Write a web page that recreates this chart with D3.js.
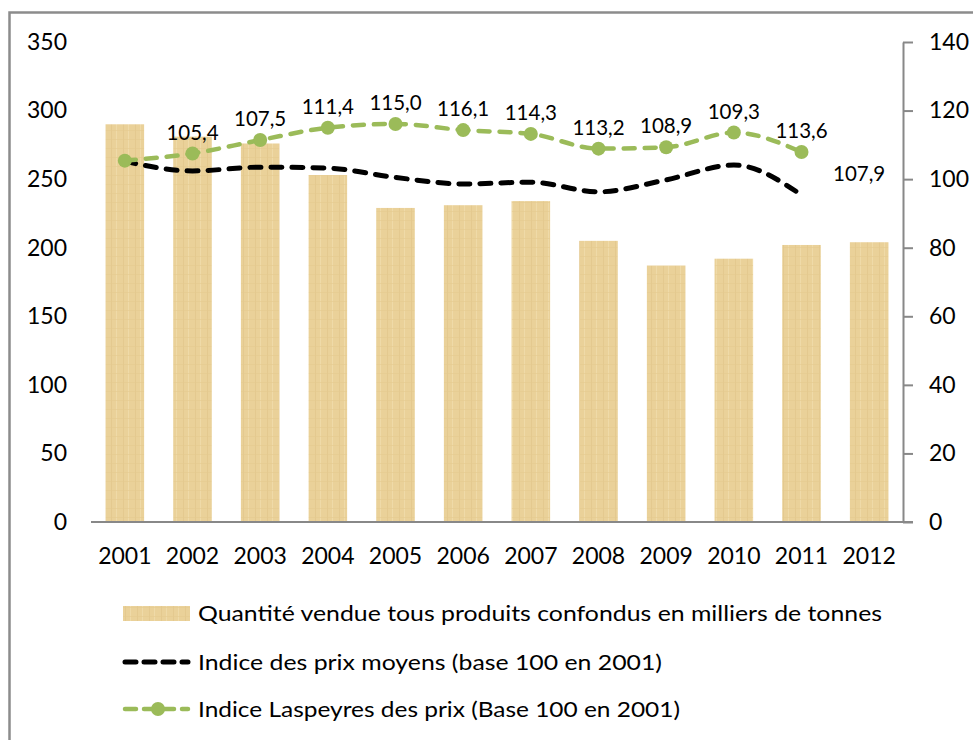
<!DOCTYPE html>
<html>
<head>
<meta charset="utf-8">
<script src="https://cdn.jsdelivr.net/npm/d3@7"></script>
<style>
  body { margin: 0; background: #fff; }
  text { font-family: Lato, "Open Sans", sans-serif; fill: #000; }
</style>
</head>
<body>
<div id="chart"></div>
<script>
const years = ['2001', '2002', '2003', '2004', '2005', '2006', '2007', '2008', '2009', '2010', '2011', '2012'];
// quantité vendue (milliers de tonnes), left axis
const quantity = [290, 281, 276, 253, 229, 231, 234, 205, 187, 192, 202, 204];
// indice des prix moyens, right axis (no value for 2012)
const avgPrice = [105.2, 102.4, 103.5, 103.2, 100.5, 98.6, 99.1, 96.3, 99.8, 104.1, 95.4];
// indice Laspeyres, right axis (no value for 2012)
const laspeyres = [105.4, 107.5, 111.4, 115.0, 116.1, 114.3, 113.2, 108.9, 109.3, 113.6, 107.9];
// data labels as printed in the source, shifted one year to the right
const labelYears = years.slice(1);
const labelTexts = ['105,4', '107,5', '111,4', '115,0', '116,1', '114,3', '113,2', '108,9', '109,3', '113,6', '107,9'];

const leftTicks = [0, 50, 100, 150, 200, 250, 300, 350];
const rightTicks = [0, 20, 40, 60, 80, 100, 120, 140];

const width = 973;
const height = 740;
const plotLeft = 91, plotRight = 903, plotTop = 42, plotBottom = 522;

const svg = d3.select('#chart')
    .append('svg')
    .attr('width', width)
    .attr('height', height);

// bar texture
const defs = svg.append('defs');
const pat = defs.append('pattern')
    .attr('id', 'wood')
    .attr('patternUnits', 'userSpaceOnUse')
    .attr('width', 12)
    .attr('height', 9);
pat.append('rect').attr('width', 12).attr('height', 9).attr('fill', '#ead199');
pat.append('rect').attr('x', 3).attr('width', 1).attr('height', 9).attr('fill', '#e2c68a').attr('opacity', 0.7);
pat.append('rect').attr('x', 8).attr('width', 1).attr('height', 9).attr('fill', '#f0dcab').attr('opacity', 0.8);
pat.append('rect').attr('y', 4).attr('width', 12).attr('height', 1).attr('fill', '#e4ca90').attr('opacity', 0.6);

// frame
svg.append('path')
    .attr('d', 'M9.5,' + height + 'V12.5H' + width)
    .attr('fill', 'none')
    .attr('stroke', '#8c8c8c')
    .attr('stroke-width', 2.5);

const x = d3.scaleBand()
    .domain(years)
    .range([plotLeft, plotRight])
    .paddingInner(0.43)
    .paddingOuter(0.215);

const yL = d3.scaleLinear()
    .domain([0, 350])
    .range([plotBottom, plotTop]);

const yR = d3.scaleLinear()
    .domain([0, 140])
    .range([plotBottom, plotTop]);

// bars
svg.append('g')
    .selectAll('rect')
    .data(quantity)
    .enter()
    .append('rect')
    .attr('x', (d, i) => x(years[i]))
    .attr('y', d => yL(d))
    .attr('width', x.bandwidth())
    .attr('height', d => yL(0) - yL(d))
    .attr('fill', 'url(#wood)');

// left axis: labels only
const leftAxis = svg.append('g')
    .attr('transform', 'translate(' + (plotLeft - 24) + ',0)')
    .call(d3.axisLeft(yL).tickValues(leftTicks).tickSize(0).tickPadding(0));
leftAxis.select('.domain').remove();
leftAxis.selectAll('text').style('font-size', '23px').attr('font-family', 'Lato');

// right axis
const rightAxis = svg.append('g')
    .attr('transform', 'translate(' + plotRight + ',0)')
    .call(d3.axisRight(yR).tickValues(rightTicks).tickSize(10).tickSizeOuter(0).tickPadding(16));
rightAxis.select('.domain').attr('stroke', '#888').attr('stroke-width', 2);
rightAxis.selectAll('line').attr('stroke', '#888').attr('stroke-width', 2);
rightAxis.selectAll('text').style('font-size', '23px').attr('font-family', 'Lato');

// x axis
const xAxis = svg.append('g')
    .attr('transform', 'translate(0,' + plotBottom + ')')
    .call(d3.axisBottom(x).tickSize(0).tickPadding(26));
xAxis.select('.domain').remove();
xAxis.selectAll('text').style('font-size', '23px').attr('font-family', 'Lato');
svg.append('line')
    .attr('x1', plotLeft)
    .attr('x2', plotRight + 10)
    .attr('y1', plotBottom)
    .attr('y2', plotBottom)
    .attr('stroke', '#888')
    .attr('stroke-width', 2);

const cx = i => x(years[i]) + x.bandwidth() / 2;

// indice des prix moyens
svg.append('path')
    .datum(avgPrice)
    .attr('d', d3.line()
        .x((d, i) => cx(i))
        .y(d => yR(d))
        .curve(d3.curveMonotoneX))
    .attr('fill', 'none')
    .attr('stroke', '#000')
    .attr('stroke-width', 5)
    .attr('stroke-linecap', 'round')
    .attr('stroke-dasharray', '11,10');

// indice Laspeyres
svg.append('path')
    .datum(laspeyres)
    .attr('d', d3.line()
        .x((d, i) => cx(i))
        .y(d => yR(d))
        .curve(d3.curveMonotoneX))
    .attr('fill', 'none')
    .attr('stroke', '#9bbb59')
    .attr('stroke-width', 4.5)
    .attr('stroke-linecap', 'round')
    .attr('stroke-dasharray', '11,10');

svg.append('g')
    .selectAll('circle')
    .data(laspeyres)
    .enter()
    .append('circle')
    .attr('cx', (d, i) => cx(i))
    .attr('cy', d => yR(d))
    .attr('r', 7)
    .attr('fill', '#9bbb59');

// data labels, sitting above the point of the year they were placed on
svg.append('g')
    .selectAll('text')
    .data(labelTexts)
    .enter()
    .append('text')
    .text(d => d)
    .attr('x', (d, i) => x(labelYears[i]) + x.bandwidth() / 2 - (i === labelTexts.length - 1 ? 10 : 0))
    .attr('y', (d, i) => {
        const v = i + 1 < laspeyres.length ? laspeyres[i + 1] : avgPrice[avgPrice.length - 1];
        return yR(v) - 21;
    })
    .attr('dy', '0.35em')
    .attr('text-anchor', 'middle')
    .style('font-size', '20.5px');

// legend
const legend = svg.append('g').attr('transform', 'translate(122,0)');
const legendY = [613, 662, 709];
const legendText = [
    'Quantité vendue tous produits confondus en milliers de tonnes',
    'Indice des prix moyens (base 100 en 2001)',
    'Indice Laspeyres des prix (Base 100 en 2001)'
];
const legendWidth = [684, 464, 482];

legend.append('rect')
    .attr('x', 1)
    .attr('y', legendY[0] - 7)
    .attr('width', 67)
    .attr('height', 15)
    .attr('fill', 'url(#wood)');

legend.append('line')
    .attr('x1', 3).attr('x2', 66)
    .attr('y1', legendY[1]).attr('y2', legendY[1])
    .attr('stroke', '#000')
    .attr('stroke-width', 5)
    .attr('stroke-linecap', 'round')
    .attr('stroke-dasharray', '11,8');

legend.append('line')
    .attr('x1', 3).attr('x2', 66)
    .attr('y1', legendY[2]).attr('y2', legendY[2])
    .attr('stroke', '#9bbb59')
    .attr('stroke-width', 4.5)
    .attr('stroke-linecap', 'round')
    .attr('stroke-dasharray', '11,8');

legend.append('circle')
    .attr('cx', 36)
    .attr('cy', legendY[2])
    .attr('r', 7)
    .attr('fill', '#9bbb59');

legend.selectAll('text.lbl')
    .data(legendText)
    .enter()
    .append('text')
    .attr('class', 'lbl')
    .text(d => d)
    .attr('x', 76)
    .attr('y', (d, i) => legendY[i])
    .attr('dy', '0.35em')
    .attr('textLength', (d, i) => legendWidth[i])
    .attr('lengthAdjust', 'spacingAndGlyphs')
    .style('font-size', '22px');
</script>
</body>
</html>
